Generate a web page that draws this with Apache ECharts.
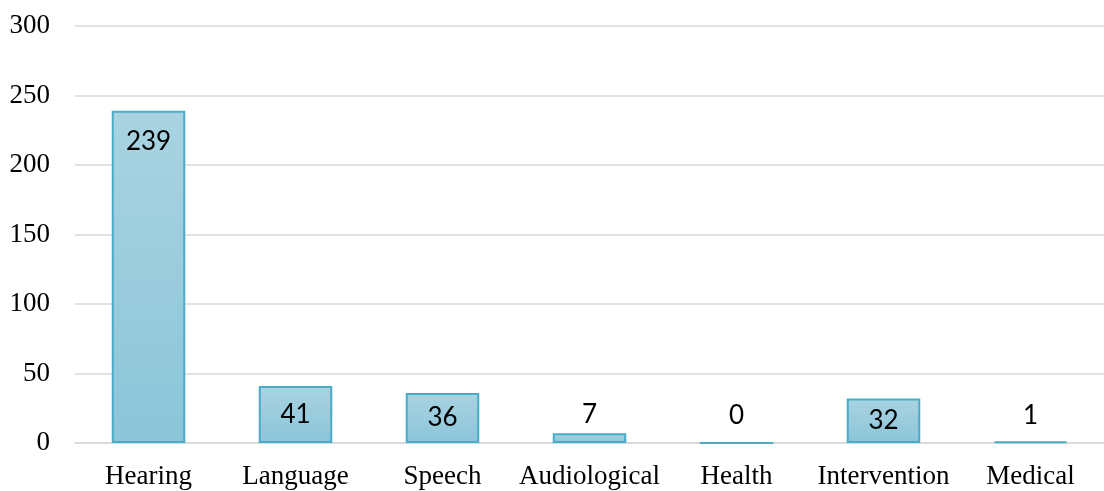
<!DOCTYPE html>
<html>
<head>
<meta charset="utf-8">
<script src="https://cdn.jsdelivr.net/npm/echarts@6/dist/echarts.min.js"></script>
<style>
  html, body { margin: 0; padding: 0; background: #fff; }
  #chart { width: 1104px; height: 491px; }
</style>
</head>
<body>
<div id="chart"></div>
<script>
// Referral counts by concern area
const categories = ['Hearing', 'Language', 'Speech', 'Audiological', 'Health', 'Intervention', 'Medical'];
const counts = [239, 41, 36, 7, 0, 32, 1];
const yTicks = [0, 50, 100, 150, 200, 250, 300];

// Value labels: tall bars get the label just inside the top, mid bars centred,
// tiny bars get it floated above the baseline.
function labelFor(v) {
  if (v >= 100) return { position: 'insideTop', distance: 18 };
  if (v >= 20) return { position: 'inside' };
  return { position: 'insideBottom', distance: 15 };
}

const chart = echarts.init(document.getElementById('chart'));
chart.setOption({
  animation: false,
  grid: { left: 75, right: 0, top: 26, bottom: 48, containLabel: false },
  xAxis: {
    type: 'category',
    data: categories,
    axisLine: { show: true, lineStyle: { color: '#d9d9d9', width: 1.5 } },
    axisTick: { show: false },
    axisLabel: {
      fontFamily: 'Liberation Serif',
      fontSize: 27,
      color: '#000',
      margin: 20,
      interval: 0
    }
  },
  yAxis: {
    type: 'value',
    min: yTicks[0],
    max: yTicks[yTicks.length - 1],
    interval: yTicks[1] - yTicks[0],
    axisLine: { show: false },
    axisTick: { show: false },
    splitLine: { lineStyle: { color: '#d9d9d9', width: 1.5 } },
    axisLabel: {
      fontFamily: 'Liberation Serif',
      fontSize: 27,
      color: '#000',
      margin: 25
    }
  },
  series: [{
    type: 'bar',
    barWidth: '50%',
    data: counts.map(v => ({ value: v, label: labelFor(v) })),
    itemStyle: {
      color: new echarts.graphic.LinearGradient(0, 0, 0, 1, [
        { offset: 0, color: '#a9d3e1' },
        { offset: 1, color: '#8bc5d9' }
      ]),
      borderColor: '#4aabc6',
      borderWidth: 2
    },
    label: {
      show: true,
      fontFamily: 'Lato',
      fontSize: 26,
      color: '#000'
    }
  }]
});
</script>
</body>
</html>
